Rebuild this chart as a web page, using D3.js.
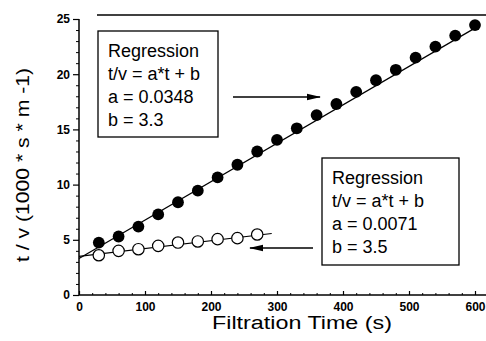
<!DOCTYPE html>
<html><head><meta charset="utf-8">
<script src="https://cdn.jsdelivr.net/npm/d3@7"></script>
<style>body{margin:0;background:#fff}</style>
</head><body>
<svg id="c" width="486" height="341"></svg>
<script>
// ---- data ----
const filledT = [30,60,90,120,150,180,210,240,270,300,330,360,390,420,450,480,510,540,570,600];
const filledV = [4.75,5.3,6.2,7.3,8.4,9.45,10.65,11.8,13.0,14.05,15.1,16.3,17.3,18.4,19.45,20.4,21.5,22.5,23.5,24.45];
const openT = [30,60,90,120,150,180,210,240,270];
const openV = [3.6,4.0,4.15,4.45,4.75,4.85,5.06,5.15,5.48];
const fitFilled = [0.0348, 3.3];   // a, b
const fitOpen = [0.0071, 3.5];
const fitFilledRange = [0, 605];
const fitOpenRange = [0, 292];
const xTicks = [0,100,200,300,400,500,600];
const yTicks = [0,5,10,15,20,25];
const box1Lines = ["Regression","t/v = a*t + b","a = 0.0348","b = 3.3"];
const box2Lines = ["Regression","t/v = a*t + b","a = 0.0071","b = 3.5"];
const xTitle = "Filtration Time (s)";
const yTitle = "t / v (1000 * s * m -1)";

// ---- drawing ----
const svg = d3.select("#c");
const font = "'Liberation Sans', Arial, Helvetica, sans-serif";
const x = d3.scaleLinear().domain([0,600]).range([79,475]);
const y = d3.scaleLinear().domain([0,25]).range([295,19]);

// frame lines
svg.append("line").attr("x1",79).attr("x2",486).attr("y1",295).attr("y2",295).attr("stroke","#000").attr("stroke-width",1.5);
svg.append("line").attr("x1",79).attr("x2",79).attr("y1",19).attr("y2",295).attr("stroke","#000").attr("stroke-width",1.5);
svg.append("line").attr("x1",97).attr("x2",486).attr("y1",15).attr("y2",15).attr("stroke","#000").attr("stroke-width",1.5);

// y axis
const yAx = svg.append("g").attr("transform","translate(79,0)")
  .call(d3.axisLeft(y).tickValues(yTicks).tickSize(6).tickPadding(3).tickFormat(d3.format("d")));
yAx.select(".domain").remove();
yAx.selectAll("text").attr("font-family",font).attr("font-weight","bold").attr("font-size",12);
yAx.selectAll("line").attr("stroke-width",1.2);
const yMinor = svg.append("g").attr("transform","translate(79,0)")
  .call(d3.axisLeft(y).tickValues(d3.range(0,26,1).filter(v=>v%5)).tickSize(3).tickFormat(""));
yMinor.select(".domain").remove();

// x axis
const xAx = svg.append("g").attr("transform","translate(0,295)")
  .call(d3.axisBottom(x).tickValues(xTicks).tickSize(-4).tickPadding(7).tickFormat(d3.format("d")));
xAx.select(".domain").remove();
xAx.selectAll("text").attr("font-family",font).attr("font-weight","bold").attr("font-size",12);
xAx.selectAll("line").attr("stroke-width",1.2);
const xMinor = svg.append("g").attr("transform","translate(0,295)")
  .call(d3.axisBottom(x).tickValues(d3.range(0,601,20).filter(v=>v%100)).tickSize(-2).tickFormat(""));
xMinor.select(".domain").remove();
svg.selectAll(".tick line").attr("stroke","#000");

// titles
svg.append("text").attr("x",302).attr("y",329).attr("text-anchor","middle")
  .attr("font-family",font).attr("font-size",18)
  .attr("textLength",180).attr("lengthAdjust","spacingAndGlyphs").text(xTitle);
svg.append("text").attr("transform","translate(29,165) rotate(-90)").attr("text-anchor","middle")
  .attr("font-family",font).attr("font-size",18)
  .attr("textLength",194).attr("lengthAdjust","spacingAndGlyphs").text(yTitle);

// regression lines
const line = d3.line().x(d=>x(d[0])).y(d=>y(d[1]));
svg.append("path").attr("d",line(fitFilledRange.map(t=>[t,fitFilled[0]*t+fitFilled[1]])))
  .attr("stroke","#000").attr("stroke-width",1.2).attr("fill","none");
svg.append("path").attr("d",line(fitOpenRange.map(t=>[t,fitOpen[0]*t+fitOpen[1]])))
  .attr("stroke","#000").attr("stroke-width",1.2).attr("fill","none");

// points
svg.append("g").selectAll("circle").data(filledT.map((t,i)=>[t,filledV[i]])).join("circle")
  .attr("cx",d=>x(d[0])).attr("cy",d=>y(d[1])).attr("r",5.9).attr("fill","#000");
svg.append("g").selectAll("circle").data(openT.map((t,i)=>[t,openV[i]])).join("circle")
  .attr("cx",d=>x(d[0])).attr("cy",d=>y(d[1])).attr("r",5.7).attr("fill","#fff")
  .attr("stroke","#000").attr("stroke-width",1.2);

// boxes
function box(x0,y0,w,h,lines){
  const g = svg.append("g");
  g.append("rect").attr("x",x0).attr("y",y0).attr("width",w).attr("height",h)
    .attr("fill","#fff").attr("stroke","#000").attr("stroke-width",1.3);
  g.selectAll("text").data(lines).join("text")
    .attr("x",x0+10).attr("y",(d,i)=>y0+26+i*23)
    .attr("font-family",font).attr("font-size",18).text(d=>d);
}
box(98,31,120,106,box1Lines);
box(322,158,137,107,box2Lines);

// arrows
svg.append("defs").append("marker").attr("id","ah").attr("viewBox","0 0 14 8")
  .attr("refX",13).attr("refY",4).attr("markerWidth",14).attr("markerHeight",8)
  .attr("markerUnits","userSpaceOnUse").attr("orient","auto")
  .append("path").attr("d","M0,0.8 L14,4 L0,7.2 Z").attr("fill","#000");
svg.append("line").attr("x1",233).attr("y1",97).attr("x2",320).attr("y2",97)
  .attr("stroke","#000").attr("stroke-width",1.3).attr("marker-end","url(#ah)");
svg.append("line").attr("x1",313).attr("y1",248).attr("x2",250).attr("y2",248)
  .attr("stroke","#000").attr("stroke-width",1.3).attr("marker-end","url(#ah)");
</script>
</body></html>
